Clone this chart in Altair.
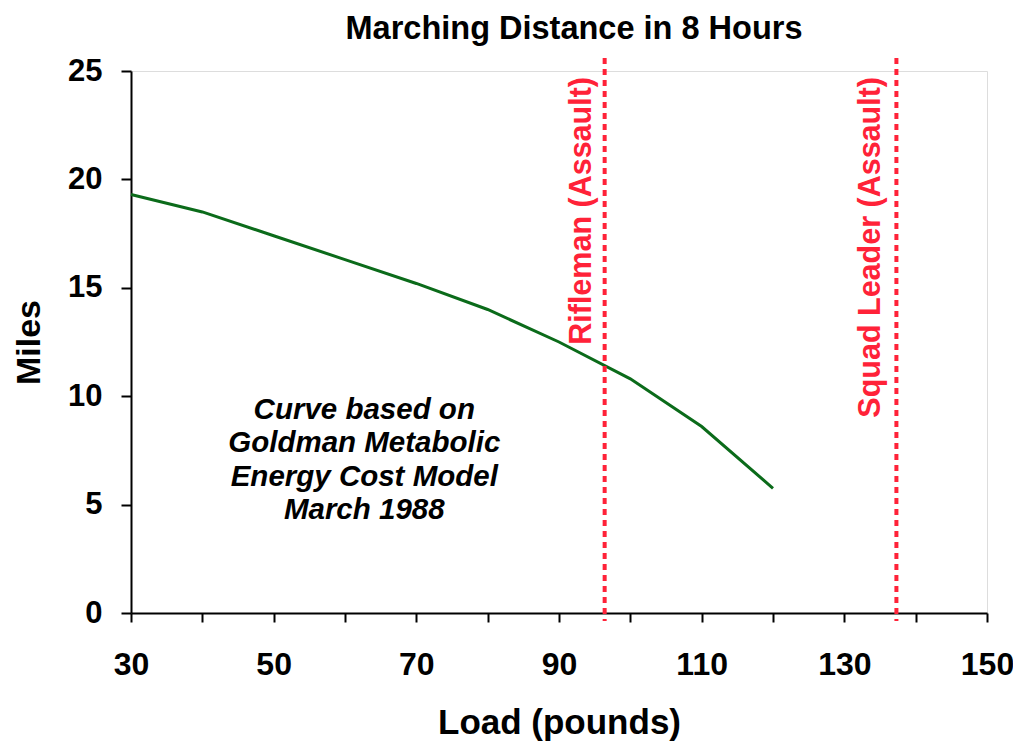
import altair as alt
import pandas as pd

load = [30, 40, 50, 60, 70, 80, 90, 100, 110, 120]
miles = [19.3, 18.5, 17.4, 16.3, 15.2, 14.0, 12.5, 10.8, 8.6, 5.75]

role_load = [96.4, 137.3]
role_label = ["Rifleman (Assault)", "Squad Leader (Assault)"]
role_label_x = [95.3, 135.9]

note_lines = ["Curve based on", "Goldman Metabolic", "Energy Cost Model", "March 1988"]
note_y = [9.36, 7.84, 6.29, 4.77]
note_x = [62.7] * 4

FONT = "Liberation Sans"
RED = "#FF2238"
W, H = 856, 542

curve = pd.DataFrame({"load": load, "miles": miles})
roles = pd.DataFrame({"load": role_load, "label": role_label, "lx": role_label_x, "ly": [25] * 2})
notes = pd.DataFrame({"x": note_x, "y": note_y, "t": note_lines})

xscale = alt.Scale(domain=[30, 150], nice=False, zero=False)
yscale = alt.Scale(domain=[0, 25], nice=False)

xaxis = alt.Axis(
    values=list(range(30, 151, 10)),
    labelExpr="(datum.value - 30) % 20 == 0 ? datum.label : ''",
    title="Load (pounds)", grid=False, tickSize=9, tickWidth=2, tickColor="black",
    domainColor="black", domainWidth=2, labelFont=FONT, labelFontSize=32,
    labelFontWeight="bold", labelColor="black", labelPadding=27, labelFlush=False,
    titleFont=FONT, titleFontSize=35, titleFontWeight="bold", titleColor="black",
    titlePadding=25,
)
yaxis = alt.Axis(
    values=[0, 5, 10, 15, 20, 25], title="Miles", grid=False, tickSize=10,
    tickWidth=2, tickColor="black", domainColor="black", domainWidth=2,
    labelFont=FONT, labelFontSize=31, labelFontWeight="bold", labelColor="black",
    labelPadding=19, titleFont=FONT, titleFontSize=34, titleFontWeight="bold",
    titleColor="black", titlePadding=21,
)

line = alt.Chart(curve).mark_line(color="#0B6B1A", strokeWidth=3).encode(
    x=alt.X("load:Q", scale=xscale, axis=xaxis),
    y=alt.Y("miles:Q", scale=yscale, axis=yaxis),
)

rules = alt.Chart(roles).mark_rule(color=RED, strokeWidth=4, strokeDash=[6, 5]).encode(
    x=alt.X("load:Q", scale=xscale),
    y=alt.value(-13),
    y2=alt.value(H + 8),
)

role_text = alt.Chart(roles).mark_text(
    angle=270, align="right", baseline="bottom", color=RED, font=FONT,
    fontSize=30.5, fontWeight="bold", dx=-6,
).encode(
    x=alt.X("lx:Q", scale=xscale),
    y=alt.Y("ly:Q", scale=yscale),
    text="label:N",
)

note_text = alt.Chart(notes).mark_text(
    align="center", baseline="middle", font=FONT, fontSize=29.5,
    fontWeight="bold", fontStyle="italic", color="black",
).encode(
    x=alt.X("x:Q", scale=xscale),
    y=alt.Y("y:Q", scale=yscale),
    text="t:N",
)

chart = alt.layer(line, rules, role_text, note_text).properties(
    width=W, height=H,
    title=alt.TitleParams("Marching Distance in 8 Hours", font=FONT, fontSize=32.5,
                          fontWeight="bold", color="black", anchor="middle",
                          offset=10, dx=15),
    autosize=alt.AutoSizeParams(type="none"),
    padding={"left": 123, "top": 63, "right": 26, "bottom": 130},
).configure_view(stroke="black", strokeWidth=1.5).configure(background="white")

chart.save("out.html", embed_options={"renderer": "svg", "actions": False})
